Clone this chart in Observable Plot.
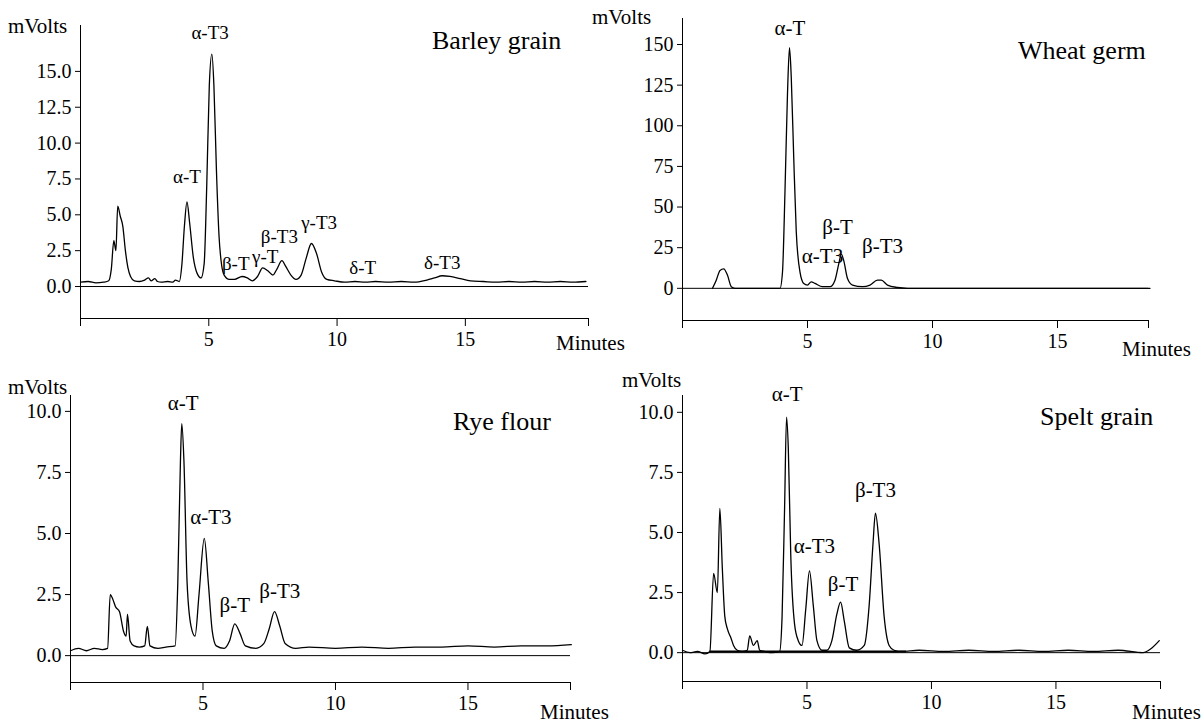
<!DOCTYPE html>
<html><head><meta charset="utf-8">
<script src="https://cdn.jsdelivr.net/npm/d3@7"></script>
<script src="https://cdn.jsdelivr.net/npm/@observablehq/plot@0.6"></script>
<style>
body{margin:0;background:#fff;font-family:"Liberation Serif",serif;}
#wrap{position:relative;width:1204px;height:724px;}
.p{position:absolute;}
svg text{font-family:"Liberation Serif",serif !important;}
svg [aria-label*="tick label"]{font-size:20px !important;}
.lab{position:absolute;font-size:21px;color:#000;}
.ttl{position:absolute;font-size:26px;color:#000;}
</style></head><body><div id="wrap"></div>
<script>
// Barley grain
const barleyT = [0,0.3,0.6,0.9,1.1,1.2,1.3,1.38,1.45,1.55,1.65,1.75,1.85,1.95,2.1,2.3,2.5,2.65,2.75,2.9,3.0,3.15,3.4,3.6,3.7,3.85,3.95,4.05,4.15,4.25,4.4,4.55,4.7,4.82,4.92,5.02,5.12,5.2,5.3,5.4,5.5,5.6,5.8,6.0,6.3,6.5,6.7,6.9,7.1,7.3,7.5,7.65,7.85,8.0,8.2,8.4,8.6,8.8,9.0,9.2,9.4,9.6,9.9,10.3,10.7,11.1,11.5,12,12.5,13,13.5,13.8,14.1,14.4,14.8,15.2,15.7,16.2,16.7,17.2,17.7,18.2,18.7,19.2,19.7];
const barleyV = [0.3,0.35,0.25,0.3,0.4,1.2,3.2,2.5,5.6,4.9,4.2,2.5,1.3,0.7,0.4,0.35,0.45,0.6,0.4,0.55,0.35,0.3,0.35,0.3,0.45,0.35,1.5,4.2,5.9,4.5,2.0,0.9,0.6,1.6,7.0,14.0,16.2,14.0,8.0,3.5,1.5,0.8,0.5,0.5,0.7,0.6,0.4,0.7,1.3,1.1,0.8,1.2,1.8,1.4,0.8,0.5,0.8,2.0,3.0,2.3,1.0,0.5,0.4,0.3,0.35,0.3,0.35,0.3,0.35,0.3,0.45,0.6,0.75,0.7,0.55,0.4,0.35,0.3,0.35,0.3,0.35,0.3,0.35,0.3,0.35];
const barleyLabels = ["α-T3","α-T","β-T","γ-T","β-T3","γ-T3","δ-T","δ-T3"];
const barleyLx = [5.05,4.15,6.05,7.2,7.75,9.3,11.0,14.1];
const barleyLy = [16.9,6.9,0.8,1.3,2.7,3.7,0.55,0.9];

// Wheat germ
const wheatT = [1.2,1.35,1.5,1.65,1.8,1.95,2.1,2.6,3.2,3.9,4.0,4.1,4.2,4.28,4.35,4.45,4.55,4.7,4.85,5.0,5.15,5.3,5.6,5.9,6.1,6.25,6.35,6.45,6.6,6.8,7.2,7.5,7.8,7.95,8.2,8.6,9.0,12,15,18.7];
const wheatV = [0,5,11,12,8,1,0,0,0,0,10,60,120,148,130,80,35,10,3,2,4,3,1,1,5,15,21,17,6,2,1,2,5,5,2,0.5,0,0,0,0];
const wheatLabels = ["α-T","α-T3","β-T","β-T3"];
const wheatLx = [4.3,5.6,6.2,8.0];
const wheatLy = [153,13,31,19];

// Rye flour
const ryeT = [0,0.3,0.6,0.9,1.2,1.4,1.5,1.6,1.7,1.85,2.0,2.1,2.15,2.25,2.4,2.6,2.8,2.9,3.0,3.3,3.6,3.95,4.05,4.15,4.2,4.28,4.4,4.55,4.7,4.85,5.05,5.2,5.35,5.5,5.8,6.0,6.2,6.4,6.6,7.0,7.3,7.5,7.7,7.9,8.1,8.5,9,10,11,12,13,14,15,16,17,18,18.9];
const ryeV = [0.2,0.3,0.2,0.3,0.25,0.3,2.5,2.3,2.0,1.8,1.0,0.8,1.7,0.6,0.4,0.35,0.4,1.2,0.4,0.3,0.35,0.4,3.0,8.0,9.5,8.0,3.0,1.2,0.8,2.5,4.8,3.0,1.0,0.4,0.3,0.6,1.3,0.9,0.4,0.3,0.5,1.1,1.8,1.2,0.5,0.3,0.35,0.3,0.35,0.3,0.35,0.35,0.4,0.35,0.4,0.4,0.45];
const ryeLabels = ["α-T","α-T3","β-T","β-T3"];
const ryeLx = [4.25,5.3,6.2,7.9];
const ryeLy = [9.9,5.2,1.6,2.2];

// Spelt grain
const speltT = [0,0.3,0.6,0.9,1.1,1.25,1.4,1.5,1.6,1.7,1.8,1.95,2.05,2.2,2.4,2.6,2.7,2.85,3.0,3.1,3.3,3.6,3.9,4.0,4.1,4.18,4.25,4.35,4.5,4.65,4.8,4.95,5.1,5.25,5.4,5.6,5.8,6.0,6.2,6.35,6.5,6.7,7.0,7.3,7.5,7.65,7.75,7.9,8.1,8.3,8.5,8.8,9.5,10.5,11.5,12.5,13.5,14.5,15.5,16.5,17.5,18.5,18.8,19.15];
const speltV = [0.1,0.0,0.05,-0.05,0.05,3.3,2.5,6.0,3.5,1.5,1.0,0.6,0.3,0.1,0.05,0.1,0.7,0.3,0.5,0.1,0.05,0.0,0.05,1.5,6.0,9.8,8.5,4.0,1.2,0.5,0.3,1.8,3.4,2.0,0.5,0.1,0.1,0.5,1.6,2.1,1.3,0.2,0.1,0.3,2.0,4.5,5.8,4.5,1.5,0.3,0.1,0.05,0.1,0.05,0.1,0.05,0.1,0.05,0.1,0.05,0.1,0.0,0.15,0.5];
const speltLabels = ["α-T","α-T3","β-T","β-T3"];
const speltLx = [4.2,5.3,6.45,7.75];
const speltLy = [10.3,3.95,2.4,6.3];

const wrap = document.getElementById("wrap");
const font = "'Liberation Serif', serif";

function panel(o) {
  const data = o.t.map((t, i) => ({t, v: o.v[i]}));
  const labs = o.labels.map((s, i) => ({s, x: o.lx[i], y: o.ly[i]}));
  const marks = [
    Plot.ruleX([0], {y1: o.ydom[0], y2: o.ydom[1]}),
    Plot.ruleY([o.ydom[0]], {x1: 0, x2: o.xmax}),
    Plot.ruleY([0], {x1: 0, x2: o.xmax}),
    Plot.axisY({ticks: o.yticks, tickSize: 5, tickPadding: 4, tickFormat: o.yfmt}),
    Plot.axisX({ticks: [0, 5, 10, 15, o.xmax], tickSize: 8, tickPadding: 5,
      tickFormat: (d) => ([5, 10, 15].includes(d) ? d : ""), label: null}),
    Plot.line(data, {x: "t", y: "v", stroke: "black", strokeWidth: 1.3, curve: "monotone-x"}),
    Plot.text(labs, {x: "x", y: "y", text: "s", dy: -11, fontSize: o.lfs || 21})
  ];
  if (o.base) marks.push(Plot.ruleY([o.base[2]], {x1: o.base[0], x2: o.base[1], strokeWidth: 2}));
  const chart = Plot.plot({
    width: o.w, height: o.h,
    marginLeft: o.ml, marginRight: o.w - o.ml - o.pw, marginTop: o.mt, marginBottom: o.h - o.mt - o.ph,
    style: {fontFamily: font, fontSize: "20px", color: "black"},
    x: {domain: [0, o.xmax], range: [o.ml, o.ml + o.pw]},
    y: {domain: o.ydom, label: null},
    marks
  });
  chart.classList.add("p");
  chart.style.left = o.left + "px";
  chart.style.top = o.top + "px";
  wrap.appendChild(chart);
  const add = (cls, txt, x, y) => {
    const d = document.createElement("div");
    d.className = cls; d.textContent = txt;
    d.style.left = x + "px"; d.style.top = y + "px";
    wrap.appendChild(d);
  };
  add("lab", "mVolts", o.mv[0], o.mv[1]);
  add("lab", "Minutes", o.mn[0], o.mn[1]);
  add("ttl", o.title, o.ti[0], o.ti[1]);
}

const f1 = (d) => d.toFixed(1);

panel({t: barleyT, v: barleyV, labels: barleyLabels, lx: barleyLx, ly: barleyLy, lfs: 19,
  left: 0, top: 0, w: 600, h: 360, ml: 80, pw: 508, mt: 25, ph: 293,
  xmax: 19.8, ydom: [-2.23, 18.2], yticks: [0, 2.5, 5, 7.5, 10, 12.5, 15], yfmt: f1,
  mv: [8, 14], mn: [556, 331], ti: [432, 26], title: "Barley grain"});

panel({t: wheatT, v: wheatV, labels: wheatLabels, lx: wheatLx, ly: wheatLy,
  left: 600, top: 0, w: 604, h: 360, ml: 82, pw: 466, mt: 18, ph: 302,
  xmax: 18.64, ydom: [-19.8, 166], yticks: [0, 25, 50, 75, 100, 125, 150], yfmt: (d) => d,
  mv: [592, 5], mn: [1122, 337], ti: [1018, 36], title: "Wheat germ"});

panel({t: ryeT, v: ryeV, labels: ryeLabels, lx: ryeLx, ly: ryeLy,
  left: 0, top: 362, w: 600, h: 362, ml: 70, pw: 500, mt: 33, ph: 287,
  xmax: 18.87, ydom: [-1.1, 10.65], yticks: [0, 2.5, 5, 7.5, 10], yfmt: f1,
  mv: [8, 375], mn: [540, 700], ti: [453, 407], title: "Rye flour"});

panel({t: speltT, v: speltV, labels: speltLabels, lx: speltLx, ly: speltLy,
  left: 600, top: 362, w: 604, h: 362, ml: 82, pw: 478, mt: 33, ph: 286,
  xmax: 19.2, ydom: [-1.2, 10.7], yticks: [0, 2.5, 5, 7.5, 10], yfmt: f1,
  base: [1.1, 9.0, 0.05],
  mv: [622, 368], mn: [1132, 700], ti: [1040, 402], title: "Spelt grain"});
</script></body></html>
